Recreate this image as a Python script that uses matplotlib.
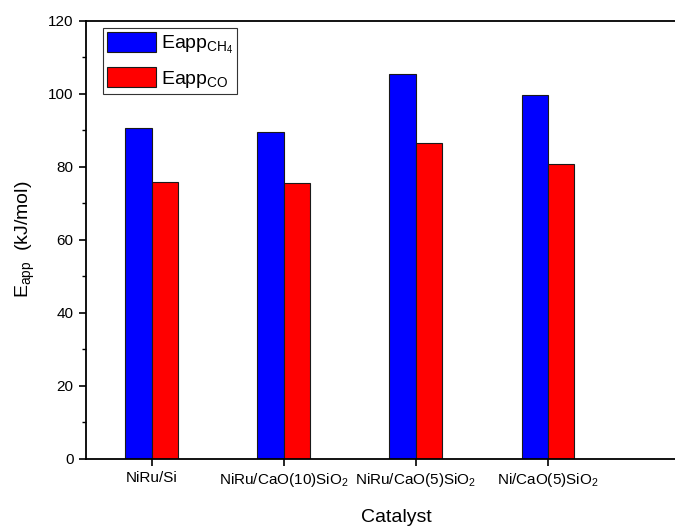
import matplotlib
matplotlib.use("Agg")
from matplotlib import pyplot as plt
from matplotlib.ticker import MultipleLocator
import numpy as np

plt.rcParams['font.family'] = ['Liberation Sans', 'DejaVu Sans']
plt.rcParams['mathtext.default'] = 'regular'

catalysts = ['NiRu/Si', 'NiRu/CaO(10)SiO$_2$', 'NiRu/CaO(5)SiO$_2$', 'Ni/CaO(5)SiO$_2$']
eapp_ch4 = [90.5, 89.4, 105.5, 99.6]
eapp_co = [75.8, 75.6, 86.6, 80.6]

x = np.arange(len(catalysts))
w = 0.2

fig = plt.figure(figsize=(6.75, 5.27), dpi=100)
# frame runs off the right edge of the figure
ax = fig.add_axes([0.1267, 0.1296, 0.92, 0.8312])

ax.bar(x - w / 2, eapp_ch4, w, color='#0000ff', edgecolor='#1a1a1a', linewidth=0.8,
       label='Eapp$_{CH_4}$')
ax.bar(x + w / 2, eapp_co, w, color='#ff0000', edgecolor='#1a1a1a', linewidth=0.8,
       label='Eapp$_{CO}$')

ax.set_xlim(-0.5, 4.2)
ax.set_ylim(0, 120)
ax.set_xticks(x)
ax.set_xticklabels(catalysts, fontsize=11)
ax.yaxis.set_major_locator(MultipleLocator(20))
ax.yaxis.set_minor_locator(MultipleLocator(10))
ax.tick_params(axis='y', labelsize=11)
ax.tick_params(which='major', direction='out', length=5, width=1.2)
ax.tick_params(which='minor', direction='out', length=3, width=1.0)
for s in ax.spines.values():
    s.set_linewidth(1.3)
ax.spines['right'].set_visible(False)

ax.set_xlabel('Catalyst', fontsize=14, labelpad=15)
ax.set_ylabel('E$_{app}$  (kJ/mol)', fontsize=14, labelpad=8)

leg = ax.legend(loc='upper left', bbox_to_anchor=(0.0285, 0.983), fontsize=14,
                fancybox=False, edgecolor='#333333', framealpha=1,
                handlelength=2.5, handleheight=1.2, handletextpad=0.25,
                borderpad=0.2, labelspacing=0.6, borderaxespad=0)
leg.get_frame().set_linewidth(0.8)

fig.savefig('out.png', dpi=100)
